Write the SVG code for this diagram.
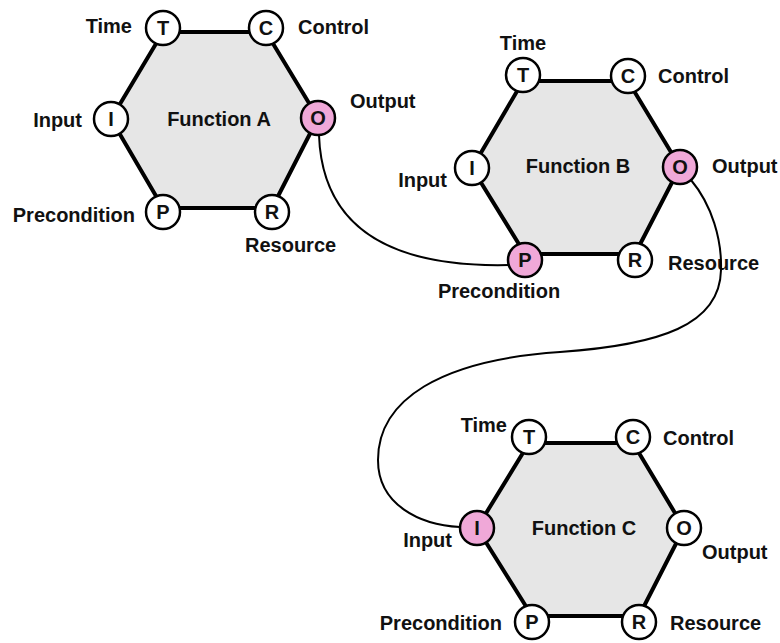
<svg xmlns="http://www.w3.org/2000/svg" width="780" height="643" viewBox="0 0 780 643">
  <style>
    text { font-family: "Liberation Sans", Arial, Helvetica, sans-serif; font-weight: bold; font-size: 20px; fill: #111; }
    .hex { fill: #e6e6e6; stroke: #000; stroke-width: 4; stroke-linejoin: round; }
    .asp { fill: #fff; stroke: #000; stroke-width: 2.5; }
    .asp.on { fill: #f0a8d8; }
    .ltr { text-anchor: middle; font-size: 20px; }
    .title { text-anchor: middle; }
    .end { text-anchor: end; }
    .mid { text-anchor: middle; }
    .link { fill: none; stroke: #000; stroke-width: 2; }
  </style>
  <rect width="780" height="643" fill="#fff"/>

  <!-- Function A -->
  <g id="function-a">
    <polygon class="hex" points="163,32 266,32 318,118 272,208 163,208 111,119"/>
    <text class="title" x="219" y="126">Function A</text>
    <circle class="asp" cx="163" cy="28" r="17"/><text class="ltr" x="163" y="35">T</text>
    <circle class="asp" cx="266" cy="28" r="17"/><text class="ltr" x="266" y="35">C</text>
    <circle class="asp on" cx="318" cy="118" r="17"/><text class="ltr" x="318" y="125">O</text>
    <circle class="asp" cx="272" cy="212" r="17"/><text class="ltr" x="272" y="219">R</text>
    <circle class="asp" cx="163" cy="212" r="17"/><text class="ltr" x="163" y="219">P</text>
    <circle class="asp" cx="111" cy="119" r="17"/><text class="ltr" x="111" y="126">I</text>
    <text class="end" x="132" y="33">Time</text>
    <text x="298" y="34">Control</text>
    <text x="350" y="108">Output</text>
    <text class="end" x="82" y="127">Input</text>
    <text class="end" x="135" y="222">Precondition</text>
    <text x="245" y="252">Resource</text>
  </g>

  <!-- Function B -->
  <g id="function-b">
    <polygon class="hex" points="523,81 628,81 680,167 635,254 525,254 472,168"/>
    <text class="title" x="578" y="173">Function B</text>
    <circle class="asp" cx="523" cy="75" r="17"/><text class="ltr" x="523" y="82">T</text>
    <circle class="asp" cx="628" cy="76" r="17"/><text class="ltr" x="628" y="83">C</text>
    <circle class="asp on" cx="680" cy="167" r="17"/><text class="ltr" x="680" y="174">O</text>
    <circle class="asp" cx="635" cy="260" r="17"/><text class="ltr" x="635" y="267">R</text>
    <circle class="asp on" cx="525" cy="260" r="17"/><text class="ltr" x="525" y="267">P</text>
    <circle class="asp" cx="472" cy="168" r="17"/><text class="ltr" x="472" y="175">I</text>
    <text class="mid" x="523" y="50">Time</text>
    <text x="658" y="83">Control</text>
    <text x="712" y="173">Output</text>
    <text class="end" x="447" y="187">Input</text>
    <text class="mid" x="499" y="298">Precondition</text>
    <text x="668" y="270">Resource</text>
  </g>

  <!-- Function C -->
  <g id="function-c">
    <polygon class="hex" points="529,443 633,443 684,528 639,616 532,616 477,528"/>
    <text class="title" x="584" y="535">Function C</text>
    <circle class="asp" cx="529" cy="437" r="17"/><text class="ltr" x="529" y="444">T</text>
    <circle class="asp" cx="633" cy="437" r="17"/><text class="ltr" x="633" y="444">C</text>
    <circle class="asp" cx="684" cy="528" r="17"/><text class="ltr" x="684" y="535">O</text>
    <circle class="asp" cx="639" cy="622" r="17"/><text class="ltr" x="639" y="629">R</text>
    <circle class="asp" cx="532" cy="622" r="17"/><text class="ltr" x="532" y="629">P</text>
    <circle class="asp on" cx="477" cy="528" r="17"/><text class="ltr" x="477" y="535">I</text>
    <text class="end" x="507" y="432">Time</text>
    <text x="663" y="445">Control</text>
    <text x="702" y="559">Output</text>
    <text class="end" x="452" y="547">Input</text>
    <text class="end" x="502" y="630">Precondition</text>
    <text x="670" y="630">Resource</text>
  </g>

  <!-- couplings between functions -->
  <g id="connectors">
    <path class="link" d="M319,135 C322,220 380,268 509,265"/>
    <path class="link" d="M691,180 C712,205 722,240 721,270 C720,325 660,345 560,352 C440,360 378,400 378,460 C378,505 420,525 460,527"/>
  </g>
</svg>
